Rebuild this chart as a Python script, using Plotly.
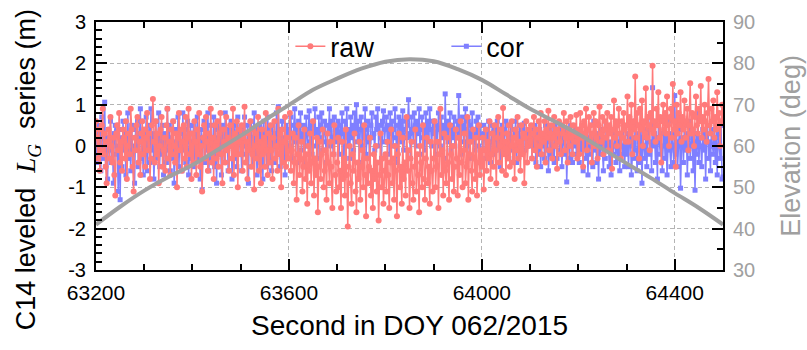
import plotly.graph_objects as go

# Time axis: one sample every 2 s across the pass
seconds = list(range(63200, 64501, 2))

# Leveled C14 series before correction (m), 50 samples per 100 s
raw = [
    # 63200-63298
    0.6, 0.2, -0.3, 0.4, -0.6, -0.1, 0.5, 0.9, -0.2, 0.3,
    -0.5, -0.9, 0.1, 0.4, -0.3, 0.7, 0.0, -0.4, 0.2, -0.7,
    -1.2, 0.3, 0.5, -0.1, 0.8, -0.4, 0.1, -0.6, 0.4, 0.2,
    -0.3, 0.6, -0.8, 0.0, 0.3, -0.2, 0.9, 0.4, -0.5, -1.1,
    0.2, -0.1, 0.5, 0.7, -0.4, 0.1, -0.7, 0.3, 0.6, -0.2,
    # 63300-63398
    0.4, -0.5, 0.2, 0.8, -0.1, 0.3, -0.8, -0.3, 0.5, 1.14,
    0.1, -0.4, 0.6, -0.2, 0.3, -0.9, 0.0, 0.4, 0.7, -0.5,
    -0.1, 0.2, -0.6, 0.5, 0.9, -0.3, 0.1, -0.7, 0.4, -0.2,
    0.6, 0.0, -0.4, 0.3, -1.0, 0.2, 0.8, -0.1, 0.4, -0.6,
    0.1, 0.5, -0.3, 0.7, -0.5, 0.2, 0.9, -0.2, 0.3, -0.8,
    # 63400-63498
    0.3, -0.4, 0.6, 0.1, -0.7, 0.4, -0.2, 0.8, -0.5, 0.0,
    -1.1, 0.2, 0.5, -0.3, 0.7, 0.1, -0.6, 0.3, -0.1, 0.9,
    -0.4, 0.2, -0.8, 0.5, 0.0, -0.3, 0.6, -0.5, 0.3, 0.8,
    -0.2, -0.9, 0.4, 0.1, -0.4, 0.7, -0.1, 0.2, -0.6, 0.5,
    0.0, -0.3, 0.9, -0.7, 0.3, -0.2, 0.6, -1.0, 0.1, 0.4,
    # 63500-63598
    -0.2, 0.5, -0.6, 0.2, 0.95, -0.4, 0.1, -0.8, 0.3, -0.1,
    0.6, -0.5, -0.2, 0.4, -1.05, 0.0, 0.3, -0.3, 0.7, -0.6,
    0.1, -0.9, 0.4, -0.2, 0.2, -0.5, 0.8, -0.1, -0.7, 0.3,
    -0.4, 0.5, -0.1, -0.8, 0.2, 0.6, -0.3, 0.0, -0.6, 0.9,
    -0.2, 0.3, -1.0, 0.4, -0.4, 0.1, 0.7, -0.5, 0.2, -0.3,
    # 63600-63698
    -0.3, 0.8, -0.6, -0.1, 0.3, -0.9, -0.4, 0.2, -1.3, -0.2,
    0.5, -0.7, -0.3, 0.1, -1.1, -0.5, 0.4, -0.8, -0.2, -1.4,
    0.0, -0.6, 0.3, -0.9, -0.4, 0.6, -1.2, -0.3, -0.7, 0.2,
    -1.6, -0.5, 0.1, -0.8, -0.2, 0.4, -1.0, -0.6, -0.1, -1.3,
    0.3, -0.4, -0.9, 0.1, -0.5, -1.5, -0.2, 0.5, -0.7, -1.1,
    # 63700-63798
    -0.4, 0.2, -1.0, -0.6, -1.5, 0.1, -0.8, -0.3, -1.2, 0.4,
    -0.7, -1.95, -0.5, 0.0, -0.9, -1.4, -0.2, -0.6, 0.3, -1.1,
    -1.6, -0.4, -0.8, 0.1, -1.3, -0.5, -0.1, -1.0, 0.5, -0.7,
    -1.7, -0.3, -0.9, -0.5, 0.2, -1.2, -0.6, -1.5, -0.2, -0.8,
    0.0, -1.1, -0.4, -1.8, -0.7, 0.3, -1.0, -0.3, -1.4, -0.6,
    # 63800-63898
    -0.2, -1.1, 0.1, -0.7, -1.5, -0.4, 0.4, -0.9, -0.3, -1.3,
    0.0, -0.6, -1.7, -0.2, 0.3, -1.0, -0.5, -1.4, 0.2, -0.8,
    -0.4, -1.2, 0.7, -0.6, -0.1, -1.5, -0.3, 0.1, -0.9, -1.3,
    -0.5, 0.4, -1.1, -0.2, -0.7, -1.6, 0.0, -0.4, -1.0, 0.5,
    -0.8, -1.3, -0.3, 0.2, -0.9, -0.5, -1.4, 0.1, -0.6, -1.1,
    # 63900-63998
    -0.3, 0.6, -1.0, -0.5, 0.1, -1.5, -0.2, 0.9, -0.7, -0.1,
    -1.2, 0.3, -0.6, -0.9, 0.2, -0.4, -1.3, 0.5, -0.2, -0.8,
    0.0, -1.1, -0.5, 0.4, -0.3, -1.2, 0.2, -0.7, 0.6, -0.4,
    -1.0, -0.1, 0.3, -0.9, -0.5, 0.7, -1.3, -0.2, 0.1, -0.6,
    -1.1, 0.4, -0.3, -0.8, 0.2, -1.2, -0.4, 0.5, -0.7, -0.1,
    # 64000-64098
    -0.5, 0.2, -1.05, -0.1, 0.4, -0.6, 0.1, -0.3, 0.6, -0.8,
    -0.2, 0.3, -0.5, 0.5, -0.1, -0.9, 0.2, 0.7, -0.4, 0.0,
    0.4, -0.6, 0.92, -0.2, 0.1, -0.7, 0.3, -0.3, 0.5, -0.5,
    0.0, 0.6, -0.4, 0.2, -0.8, 0.4, -0.1, 0.7, -0.3, 0.1,
    -0.6, 0.5, -0.2, 0.3, -0.9, 0.2, 0.6, -0.4, 0.0, 0.4,
    # 64100-64198
    0.1, 0.5, -0.3, 0.3, 0.7, -0.1, 0.4, -0.5, 0.2, 0.6,
    0.0, 0.8, -0.2, 0.3, 0.1, 0.6, -0.4, 0.4, 0.2, 0.85,
    -0.1, 0.3, 0.5, -0.3, 0.2, 0.7, 0.0, 0.4, -0.55, 0.3,
    0.6, 0.1, -0.2, 0.5, 0.3, 0.8, -0.1, 0.2, 0.6, -0.4,
    0.4, 0.0, 0.7, 0.2, -0.2, 0.5, 0.3, 0.1, 0.75, -0.3,
    # 64200-64298
    0.4, -0.2, 0.8, 0.2, 0.5, -0.5, 0.6, 0.3, 0.9, -0.1,
    0.4, 0.7, 0.1, 0.5, -0.4, 0.3, 0.8, 0.0, 0.6, 0.2,
    -0.3, 0.5, 0.95, 0.3, 0.1, 0.7, -0.2, 0.4, 0.6, 0.2,
    0.8, -0.1, 0.5, 0.3, 0.7, -0.55, 0.4, 1.1, 0.2, 0.6,
    0.0, 0.5, 0.9, 0.3, -0.3, 0.6, 0.2, 0.8, 0.4, 0.1,
    # 64300-64398
    0.5, 1.2, 0.1, 0.7, 0.3, 1.0, -0.2, 0.6, 0.4, 1.68,
    0.2, 0.8, 0.5, -0.3, 0.9, 0.4, 1.1, 0.0, 0.6, 0.3,
    1.4, 0.2, 0.7, 0.5, -0.1, 0.8, 0.4, 1.94, 0.3, 0.6,
    0.1, 0.9, 0.5, 1.3, 0.2, 0.7, -0.4, 0.6, 1.0, 0.4,
    0.8, 0.3, 1.2, 0.5, 0.0, 0.7, 0.9, 0.2, 1.5, 0.4,
    # 64400-64498
    0.6, -0.5, 1.0, 0.3, 0.8, 0.5, 1.3, 0.1, 0.7, 0.4,
    1.1, 0.2, 0.6, 0.9, -0.1, 0.5, 1.52, 0.3, 0.8, 0.4,
    0.0, 0.7, 1.2, 0.5, 0.3, 0.9, 0.6, 1.45, 0.2, 0.7,
    0.4, 1.0, 0.6, 0.1, 0.8, 1.62, 0.5, 0.3, 0.9, 0.6,
    1.1, 0.2, 0.7, 0.4, 1.3, 0.5, 0.8, 0.0, 0.6, 1.0,
    # 64500
    0.6,
]

# Leveled C14 series after correction (m), 50 samples per 100 s
cor = [
    # 63200-63298
    0.1, -0.4, 0.5, -0.2, 0.3, -0.6, 0.7, 0.0, -0.3, 1.06,
    -0.5, 0.2, -0.8, 0.4, -0.1, 0.6, -0.4, 0.1, -0.9, 0.3,
    0.5, -0.2, 0.0, -1.1, 0.4, -1.3, 0.2, -0.5, 0.6, -0.1,
    0.3, -0.7, 0.1, 0.8, -0.3, 0.2, -0.6, 0.5, -0.2, 0.0,
    -0.9, 0.4, -0.1, 0.6, -0.5, 0.3, 0.9, -0.3, 0.1, -0.7,
    # 63300-63398
    0.4, -0.2, 0.7, -0.6, 0.1, 0.5, -0.4, 0.9, -0.1, 0.3,
    -0.8, 0.2, 0.6, -0.3, 0.0, 0.8, -0.5, 0.4, -0.2, 0.5,
    -0.7, 0.1, 0.3, -0.4, 0.9, -0.1, 0.5, -0.6, 0.2, -0.3,
    0.6, -0.9, 0.1, 0.4, -0.2, 0.7, -0.5, 0.3, 0.0, -0.6,
    0.8, -0.1, 0.4, -0.4, 0.2, 0.6, -0.7, 0.1, 0.5, -0.3,
    # 63400-63498
    -0.2, 0.5, -0.5, 0.3, 0.0, 0.7, -0.3, 0.2, -0.8, 0.4,
    -1.06, 0.1, 0.6, -0.4, 0.3, -0.1, 0.8, -0.6, 0.2, 0.5,
    -0.3, 0.0, 0.7, -0.5, 0.4, -0.9, 0.2, 0.6, -0.2, 0.3,
    -0.7, 0.5, 0.1, -0.4, 0.8, -0.1, 0.3, -0.6, 0.4, 0.0,
    0.6, -0.8, 0.2, -0.3, 0.5, 0.1, -0.5, 0.7, -0.2, 0.3,
    # 63500-63598
    0.2, -0.6, 0.4, -0.2, 0.7, 0.0, -0.4, 0.5, -0.9, 0.3,
    -0.1, 0.6, -0.5, 0.2, 0.8, -0.3, 0.1, -0.7, 0.4, 0.0,
    0.5, -0.4, 0.3, -0.8, 0.6, -0.1, 0.2, -0.5, 0.7, 0.1,
    -0.3, 0.4, -0.6, 0.5, 0.0, 0.3, -0.4, 0.8, -0.2, 0.95,
    0.1, -0.5, 0.4, 0.6, -0.3, 0.2, -0.7, 0.5, 0.0, 0.3,
    # 63600-63698
    0.4, 0.0, 0.7, 0.2, -0.3, 0.5, 0.9, 0.1, 0.4, -0.4,
    0.6, 0.2, 0.8, -0.1, 0.3, 0.5, -0.5, 0.4, 0.7, 0.0,
    0.3, 0.85, 0.1, 0.5, -0.2, 0.6, 0.3, 0.9, 0.0, 0.4,
    -0.3, 0.7, 0.2, 0.5, 0.8, -0.1, 0.4, 0.6, 0.1, -0.4,
    0.5, 0.3, 0.9, 0.0, 0.6, 0.2, -0.2, 0.7, 0.4, 0.1,
    # 63700-63798
    0.3, 0.6, -0.2, 0.5, 0.1, 0.8, 0.3, -0.5, 0.6, 0.2,
    0.9, 0.0, 0.4, -0.3, 0.7, 0.2, 0.5, -0.1, 0.8, 0.3,
    1.0, 0.1, 0.6, -0.4, 0.4, 0.7, 0.0, 0.5, 0.2, 0.9,
    -0.2, 0.4, 0.6, 0.1, -0.6, 0.5, 0.8, 0.2, 0.3, -0.1,
    0.7, 0.4, 0.9, 0.0, 0.5, 0.2, -0.3, 0.6, 0.85, 0.1,
    # 63800-63898
    0.4, 0.7, 0.1, 0.5, -0.2, 0.8, 0.3, 0.6, 0.0, 0.4,
    0.9, 0.2, -0.4, 0.5, 0.7, 0.1, 0.6, 0.3, 0.85, -0.1,
    0.4, 0.6, 0.2, 0.5, 1.12, 0.3, -0.3, 0.7, 0.4, 0.1,
    0.8, 0.5, 0.0, 0.6, 0.3, 0.9, -0.2, 0.4, 0.7, 0.2,
    0.5, -0.1, 0.8, 0.3, 0.6, 0.1, 0.9, 0.4, 0.0, 0.6,
    # 63900-63998
    0.3, 0.6, -0.2, 0.5, 0.1, 0.8, 0.4, 0.0, 0.7, 0.2,
    0.5, -0.3, 1.26, 0.3, 0.6, 0.1, 0.4, 0.8, -0.1, 0.5,
    0.2, 0.7, 0.0, 0.4, 0.6, 0.2, 1.22, 0.3, -0.2, 0.5,
    0.7, 0.1, 0.4, 0.9, 0.0, 0.3, 0.6, -0.3, 0.5, 0.2,
    0.8, 0.1, 0.4, -0.1, 0.6, 0.3, 0.7, 0.0, 0.5, 0.2,
    # 64000-64098
    0.3, -0.1, 0.5, 0.2, -0.3, 0.4, 0.0, 0.6, 0.1, -0.4,
    0.3, 0.5, -0.2, 0.2, 0.4, -0.1, 0.6, 0.0, 0.3, -0.5,
    0.2, 0.5, 0.1, -0.2, 0.4, 0.6, 0.0, 0.3, -0.3, 0.2,
    0.5, 0.1, -0.1, 0.4, 0.2, 0.6, -0.4, 0.3, 0.0, 0.5,
    0.1, -0.2, 0.4, 0.2, 0.55, -0.1, 0.3, 0.0, 0.4, 0.2,
    # 64100-64198
    0.0, 0.4, -0.3, 0.2, -0.1, 0.5, -0.4, 0.1, 0.3, -0.2,
    0.4, -0.5, 0.2, 0.0, 0.3, -0.3, 0.5, -0.1, 0.2, -0.6,
    0.1, 0.4, -0.2, 0.3, 0.0, -0.4, 0.5, 0.1, -0.3, 0.2,
    0.4, -0.1, 0.3, -0.5, 0.1, 0.2, -0.2, 0.4, -0.87, 0.0,
    0.3, -0.3, 0.5, 0.1, -0.4, 0.2, 0.0, 0.4, -0.2, 0.1,
    # 64200-64298
    0.2, -0.4, 0.3, -0.1, 0.5, -0.6, 0.1, 0.0, -0.3, 0.4,
    -0.7, 0.2, -0.2, 0.3, 0.0, -0.5, 0.6, -0.1, 0.2, -0.4,
    0.1, -0.8, 0.3, -0.2, 0.4, 0.0, -0.6, 0.2, -0.3, 0.5,
    -0.1, 0.3, -0.5, 0.1, -0.7, 0.4, -0.2, 0.0, 0.3, -0.4,
    0.5, -0.3, 0.1, -0.6, 0.2, 0.0, -0.2, 0.4, -0.5, 0.1,
    # 64300-64398
    -0.2, 0.3, -0.5, 0.1, 0.4, -0.7, 0.0, 0.2, -0.3, 0.6,
    -0.1, -0.6, 0.3, 0.1, -0.4, 0.5, -0.9, 0.2, 0.0, -0.3,
    0.4, -0.5, 0.2, 0.7, -0.2, 0.1, -0.6, 1.41, 0.0, 0.3,
    -0.4, 0.2, -0.8, 0.5, 0.1, -0.2, 0.3, -0.6, 0.0, 0.4,
    -0.3, 0.2, -0.7, 0.1, 0.6, -0.1, -0.5, 0.3, 0.0, -0.4,
    # 64400-64498
    1.22, -0.2, 0.3, -0.5, 0.1, 0.4, -1.02, 0.0, 0.2, -0.4,
    0.5, -0.1, 0.3, -0.7, 0.2, 0.6, -0.3, 0.0, 0.4, -0.6,
    0.1, -1.07, 0.3, -0.2, 0.8, -0.4, 0.2, 0.0, -0.5, 0.4,
    -0.1, 0.3, -0.8, 0.2, 0.5, -0.3, 0.1, -0.6, 0.4, 0.0,
    -0.2, 0.6, -0.4, 0.2, -0.7, 0.3, 0.0, -0.3, 0.5, -0.8,
    # 64500
    -0.75,
]

# Satellite elevation sampled every 50 s (deg)
elev_seconds = list(range(63200, 64501, 50))
elevation = [
    41.0, 45.3, 49.2, 52.5, 55.4, 58.9, 62.5, 66.3, 69.9, 73.6,
    76.3, 78.7, 80.4, 81.0, 80.5, 78.6, 76.0, 72.5, 69.0, 66.0,
    62.9, 59.3, 55.8, 52.3, 48.6, 45.0, 41.0,
]

x_ticks = [63200, 63600, 64000, 64400]
y_ticks = [-3, -2, -1, 0, 1, 2, 3]
y_tick_text = ["-3", "-2", "-1", "0", "1", "2", "3"]

RAW_COLOR = "#ff7a7a"
COR_COLOR = "#7f7fff"
ELEV_COLOR = "#a0a0a0"
FONT = "Liberation Sans, Arial, sans-serif"

fig = go.Figure()

fig.add_trace(go.Scatter(
    x=seconds, y=cor, name="cor", mode="lines+markers",
    line=dict(color=COR_COLOR, width=1.5),
    marker=dict(symbol="square", size=5, color=COR_COLOR),
    legendrank=2,
))
fig.add_trace(go.Scatter(
    x=seconds, y=raw, name="raw", mode="lines+markers",
    line=dict(color=RAW_COLOR, width=1.5),
    marker=dict(symbol="circle", size=6, color=RAW_COLOR),
    legendrank=1,
))
fig.add_trace(go.Scatter(
    x=elev_seconds, y=elevation, name="Elevation", mode="lines",
    line=dict(color=ELEV_COLOR, width=4, shape="spline"),
    yaxis="y2", showlegend=False,
))

nb = "\u00a0"
y_title = (f"C14 leveled{nb}{nb}<span style=\"font-family:'Liberation Serif'\"><i>L</i>"
           f"<sub><i>G</i></sub></span>{nb}{nb}series (m)")

grid = dict(showgrid=True, gridcolor="#b4b4b4", gridwidth=1, griddash="4px,3px")
major = dict(ticks="inside", ticklen=11, tickwidth=2, tickcolor="black")


def minor_ticks(step, start=None):
    m = dict(dtick=step, ticks="inside", ticklen=6, tickwidth=1.5,
             tickcolor="black", showgrid=False)
    if start is not None:
        m["tick0"] = start
    return m


fig.update_layout(
    width=807, height=350,
    margin=dict(l=96, r=84, t=22, b=80),
    paper_bgcolor="white", plot_bgcolor="white",
    font=dict(family=FONT, size=20, color="black"),
    showlegend=True,
    legend=dict(
        orientation="h", x=0.31, y=0.9, xanchor="left", yanchor="middle",
        bgcolor="rgba(0,0,0,0)", font=dict(size=27, color="black"),
        entrywidth=111, entrywidthmode="pixels",
    ),
    xaxis=dict(
        range=[63200, 64500], tickvals=x_ticks, tickformat="d",
        **major, minor=minor_ticks(100, 63200),
        showline=True, linewidth=2, linecolor="black", mirror="ticks",
        **grid, zeroline=False,
        tickfont=dict(size=21, color="black"),
        ticklabelstandoff=3,
        title=dict(text="Second in DOY 062/2015", font=dict(size=28, color="black"), standoff=12),
    ),
    yaxis=dict(
        range=[-3, 3], tickvals=y_ticks, ticktext=y_tick_text,
        **major, minor=minor_ticks(0.2, 0),
        showline=True, linewidth=2, linecolor="black",
        **grid, zeroline=False,
        tickfont=dict(size=20, color="black"),
        ticklabelstandoff=4,
    ),
    yaxis2=dict(
        range=[30, 90], dtick=10, tick0=30, overlaying="y", side="right",
        **major, minor=minor_ticks(5),
        showline=True, linewidth=2, linecolor="black",
        showgrid=False, zeroline=False,
        tickfont=dict(size=20, color=ELEV_COLOR),
        ticklabelstandoff=4,
    ),
    annotations=[
        dict(text=y_title, textangle=-90, xref="paper", yref="paper",
             x=-0.108, y=0.403, xanchor="center", yanchor="middle",
             showarrow=False, font=dict(size=27, color="black")),
        dict(text="Elevation (deg)", textangle=-90, xref="paper", yref="paper",
             x=1.108, y=0.5, xanchor="center", yanchor="middle",
             showarrow=False, font=dict(size=27, color=ELEV_COLOR)),
    ],
)

fig.write_html("out.html")
